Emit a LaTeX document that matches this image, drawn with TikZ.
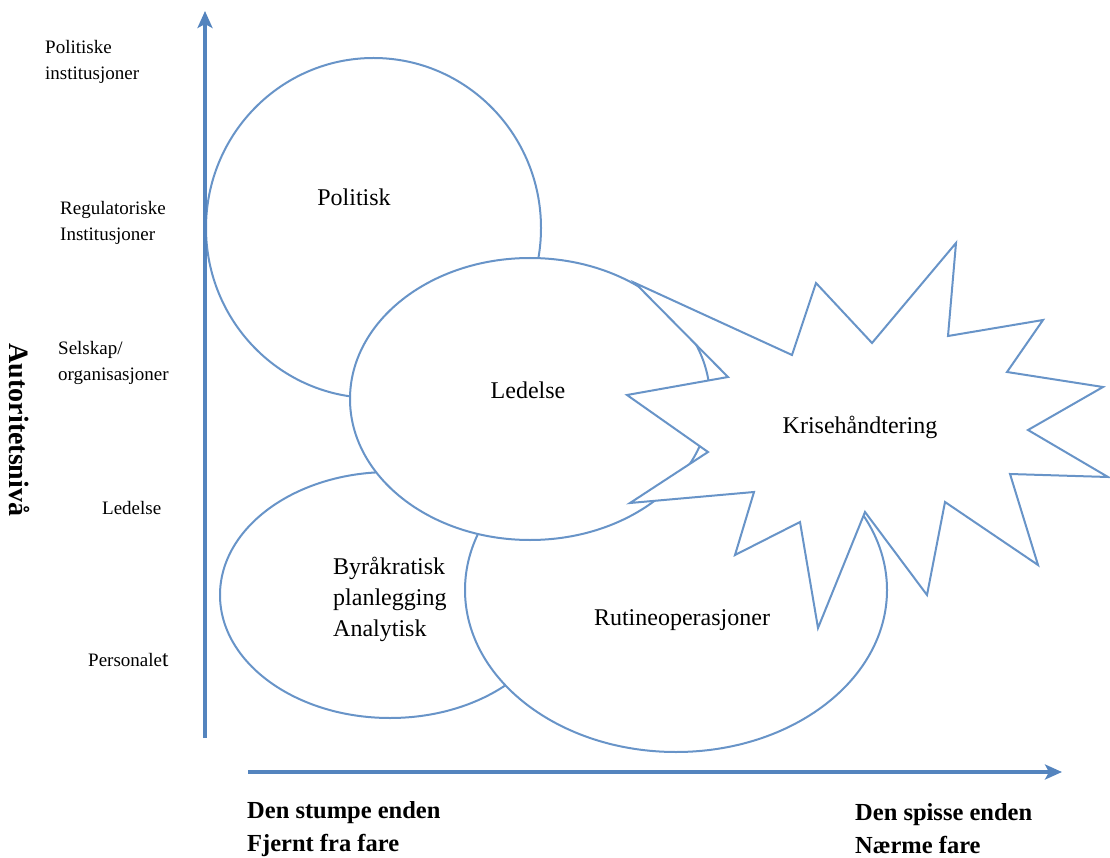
\documentclass[tikz,border=0pt]{standalone}
\usepackage{fontspec}
\setmainfont{Liberation Serif}
\usetikzlibrary{shapes.geometric,arrows.meta}
\definecolor{axisblue}{RGB}{84,132,190}
\definecolor{lineblue}{RGB}{104,148,200}
\begin{document}
\begin{tikzpicture}[x=1pt,y=-1pt,
  blob/.style={ellipse, draw=lineblue, line width=2pt, fill=white, inner sep=0pt},
  burst/.style={draw=lineblue, line width=2pt, fill=white, line join=miter},
  axisline/.style={draw=axisblue, line width=3.2pt, -{Stealth[length=17pt,width=15pt,inset=4pt]}},
  lbl/.style={font=\fontsize{19}{26}\selectfont, align=left, anchor=west, inner sep=0pt},
  inlbl/.style={font=\fontsize{24}{31}\selectfont, align=left, inner sep=0pt},
  foot/.style={font=\bfseries\fontsize{24.5}{33}\selectfont, align=left, anchor=west, inner sep=0pt}]
\useasboundingbox (0,0) rectangle (1110,858);

% ellipses (bottom to top)
\node[blob, minimum width=335pt, minimum height=340pt] (pol) at (373.5,228) {};
\node[blob, minimum width=340pt, minimum height=246pt] (byr) at (390,595) {};
\node[blob, minimum width=422pt, minimum height=324pt] (rut) at (676,590) {};
\node[blob, minimum width=360pt, minimum height=282pt] (led) at (530,399) {};

% starburst
\draw[burst] (635,283) -- (792,355) -- (816,283) -- (872,343) -- (956,243) -- (948,336)
  -- (1043,320) -- (1007,372) -- (1103,387) -- (1028,430) -- (1108,477) -- (1010,474)
  -- (1038,565) -- (945,502) -- (927,595) -- (865,512) -- (818,628) -- (800,522)
  -- (735,555) -- (754,492) -- (630,503) -- (708,452) -- (627,395) -- (728,377) -- cycle;

% axes
\coordinate (yb) at (205,738);
\coordinate (yt) at (205,11);
\coordinate (xl) at (248,772);
\coordinate (xr) at (1062,772);
\draw[axisline] (yb) -- (yt);
\draw[axisline] (xl) -- (xr);

% shape labels
\node[inlbl] (tpol) at (354,197) {Politisk};
\node[inlbl] (tled) at (528,390) {Ledelse};
\node[inlbl] (tkri) at (860,427) {Krisehåndtering};
\node[inlbl, anchor=west] (tbyr) at (333,599) {Byråkratisk\\planlegging\\Analytisk};
\node[inlbl] (trut) at (682,620) {Rutineoperasjoner};

% left axis labels
\node[lbl] (l1) at (45,62) {Politiske\\institusjoner};
\node[lbl] (l2) at (60,223) {Regulatoriske\\Institusjoner};
\node[lbl] (l3) at (58,363) {Selskap/\\organisasjoner};
\node[lbl] (l4) at (102,508) {Ledelse};
\node[lbl] (l5) at (88,660) {Personale{\fontsize{23}{26}\selectfont t}};
\node[font=\bfseries\fontsize{28}{30}\selectfont, rotate=-90, inner sep=0pt] (ay) at (19,430) {Autoritetsnivå};

% bottom axis labels
\node[foot] (f1) at (247,829) {Den stumpe enden\\Fjernt fra fare};
\node[foot] (f2) at (855,829) {Den spisse enden\\Nærme fare};
\end{tikzpicture}
\end{document}
